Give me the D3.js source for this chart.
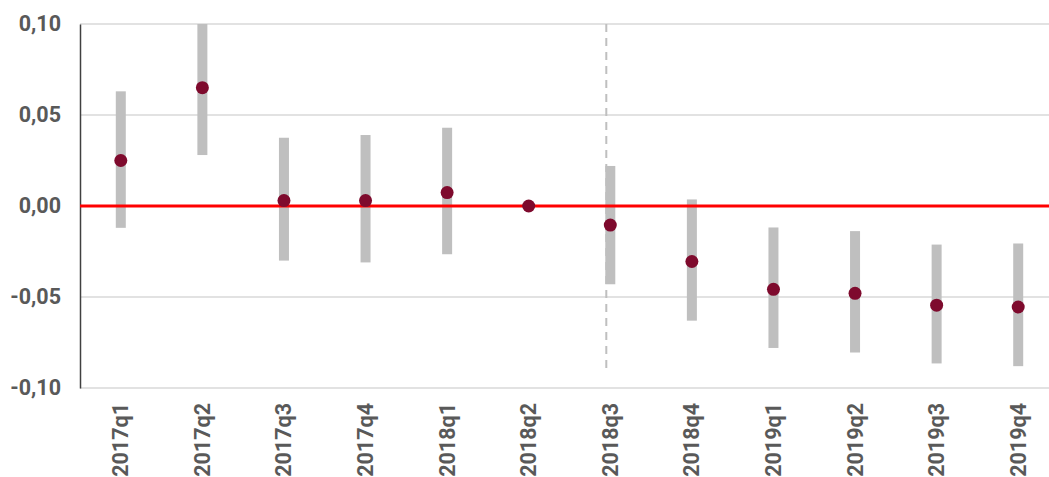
<!DOCTYPE html>
<html><head><meta charset="utf-8">
<script src="https://cdn.jsdelivr.net/npm/d3@7"></script>
<style>
html,body{margin:0;padding:0;background:#fff;}
svg{display:block;}
</style></head>
<body>
<svg id="chart" width="1049" height="477"></svg>
<script>
const categories = ["2017q1","2017q2","2017q3","2017q4","2018q1","2018q2","2018q3","2018q4","2019q1","2019q2","2019q3","2019q4"];
const pointValues = [0.025, 0.065, 0.003, 0.003, 0.0074, 0.0, -0.0105, -0.0305, -0.0458, -0.048, -0.0545, -0.0555];
const lowerValues = [-0.012, 0.028, -0.030, -0.031, -0.0265, null, -0.043, -0.063, -0.078, -0.0805, -0.0865, -0.088];
const upperValues = [0.063, 0.100, 0.0375, 0.039, 0.043, null, 0.022, 0.0036, -0.0118, -0.0138, -0.0212, -0.0206];
const yTicks = [-0.10, -0.05, 0.00, 0.05, 0.10];
const markerCategory = "2018q3";

const svg = d3.select("#chart");
const mLeft = 80, mRight = 1059, mTop = 24, mBottom = 388;
const FONT = "Roboto, 'Liberation Sans', sans-serif";

const x = d3.scaleBand().domain(categories).range([mLeft, mRight]).padding(0);
const y = d3.scaleLinear().domain([-0.10, 0.10]).range([mBottom, mTop]);
const fmt = v => d3.format(".2f")(v).replace(".", ",").replace("−", "-");

// gridlines
svg.append("g").selectAll("line").data(yTicks).join("line")
  .attr("x1", mLeft).attr("x2", 1049)
  .attr("y1", d => y(d)).attr("y2", d => y(d))
  .attr("stroke", "#d9d9d9").attr("stroke-width", 1.5);

// y axis
const yAxis = d3.axisLeft(y).tickValues(yTicks).tickFormat(fmt).tickSize(0).tickPadding(19);
const gy = svg.append("g").attr("transform", `translate(${mLeft},0)`).call(yAxis);
gy.select(".domain").attr("stroke", "#404040").attr("stroke-width", 1.5);
gy.selectAll("text").attr("font-family", FONT).attr("font-weight", "bold")
  .attr("font-size", "21.5px").attr("fill", "#595959");

// x axis labels
const xAxis = d3.axisBottom(x).tickSize(0).tickPadding(0);
const gx = svg.append("g").attr("transform", `translate(0,${mBottom})`).call(xAxis);
gx.select(".domain").remove();
gx.selectAll("text")
  .attr("font-family", FONT).attr("font-weight", "bold")
  .attr("font-size", "21.5px").attr("fill", "#595959")
  .attr("transform", "rotate(-90)")
  .attr("text-anchor", "end")
  .attr("x", -15).attr("y", 0).attr("dy", "0.35em");

// dashed marker line
svg.append("line")
  .attr("x1", x(markerCategory) + x.bandwidth()/2 - 4)
  .attr("x2", x(markerCategory) + x.bandwidth()/2 - 4)
  .attr("y1", y(0.10)).attr("y2", y(-0.092))
  .attr("stroke", "#bfbfbf").attr("stroke-width", 2).attr("stroke-dasharray", "8,6");

// range bars
const data = categories.map((c,i) => ({c, v: pointValues[i], lo: lowerValues[i], hi: upperValues[i]}));
svg.append("g").selectAll("rect").data(data.filter(d => d.lo !== null)).join("rect")
  .attr("x", d => x(d.c) + x.bandwidth()/2 - 5)
  .attr("width", 10)
  .attr("y", d => y(d.hi))
  .attr("height", d => y(d.lo) - y(d.hi))
  .attr("fill", "#bfbfbf");

// zero line
svg.append("line").attr("x1", mLeft).attr("x2", 1049)
  .attr("y1", y(0)).attr("y2", y(0))
  .attr("stroke", "#ff0000").attr("stroke-width", 3);

// points
svg.append("g").selectAll("circle").data(data).join("circle")
  .attr("cx", d => x(d.c) + x.bandwidth()/2)
  .attr("cy", d => y(d.v))
  .attr("r", 6.5)
  .attr("fill", "#7e0a2d");
</script>
</body></html>
